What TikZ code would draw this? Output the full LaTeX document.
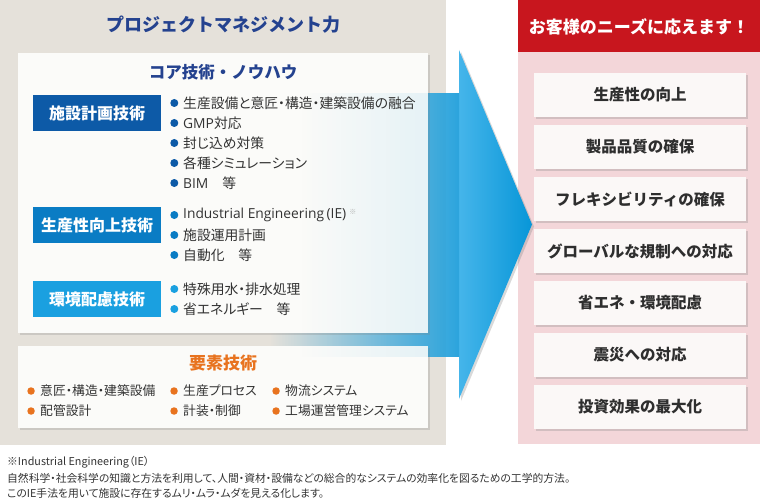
\documentclass[tikz,border=0pt]{standalone}
\usepackage{fontspec}
\setmainfont{Noto Sans CJK JP}
\newfontfamily\paltfont{Noto Sans CJK JP}[RawFeature=+palt]
\newfontfamily\latinfont{Open Sans}
\usepackage{xcolor}
\usetikzlibrary{positioning, shadows, fadings}

\definecolor{panelgray}{HTML}{E5E1DA}
\definecolor{titleblue}{HTML}{24428F}
\definecolor{catdark}{HTML}{0D5AA7}
\definecolor{catmid}{HTML}{0A7CC4}
\definecolor{catlight}{HTML}{1AA0E0}
\definecolor{boxwhite}{HTML}{FBFBF9}
\definecolor{txtgray}{HTML}{333333}
\definecolor{elemorange}{HTML}{E8731F}
\definecolor{needred}{HTML}{C8161E}
\definecolor{needpink}{HTML}{F3D6D9}
\definecolor{needfill}{HTML}{FBF8F7}
\definecolor{arrowblue}{HTML}{2AA3DC}
\definecolor{headlight}{HTML}{45B5EA}
\definecolor{headdark}{HTML}{0796D8}

\tikzfading[name=shaftfade, left color=transparent!100, right color=transparent!0]

\begin{document}
\begin{tikzpicture}[x=1pt, y=-1pt,
  heading/.style={font=\bfseries\fontsize{#1}{#1}\selectfont, inner sep=0pt},
  panel/.style={fill=boxwhite, inner sep=0pt, minimum width=410pt,
    drop shadow={opacity=0.25, shadow xshift=1.5pt, shadow yshift=-2pt}},
  cat/.style={fill=#1, text=white, minimum width=128pt, minimum height=36pt,
    inner sep=0pt, font=\bfseries\fontsize{16}{18}\selectfont},
  dot/.style={circle, fill=#1, inner sep=0pt, minimum size=8pt},
  item/.style={anchor=west, inner sep=0pt, text=txtgray,
    font=\paltfont\fontsize{13.8}{16}\selectfont,
    label={[dot=#1, xshift=-4.5pt]left:{}}},
  elem/.style={anchor=west, inner sep=0pt, text=txtgray,
    font=\paltfont\fontsize{12.8}{15}\selectfont,
    label={[dot=elemorange, minimum size=7.5pt, xshift=-5pt]left:{}}},
  need/.style={fill=needfill, minimum width=212pt, minimum height=44pt, inner sep=0pt,
    text=txtgray!90!black, font=\bfseries\fontsize{15.5}{18}\selectfont,
    drop shadow={opacity=0.28, shadow xshift=1.5pt, shadow yshift=-2pt}},
  note/.style={anchor=west, inner sep=0pt, text=txtgray,
    font=\paltfont\fontsize{10.8}{12}\selectfont},
]
\useasboundingbox (0,0) rectangle (760,500);

% backgrounds
\node[fill=panelgray, minimum width=446pt, minimum height=445pt, inner sep=0pt] (mgmt) at (223,222.5) {};
\node[fill=needpink, minimum width=242pt, minimum height=392pt, inner sep=0pt] (needs) at (639,248) {};
\node[fill=needred, minimum width=242pt, minimum height=52pt, inner sep=0pt] (needhead) at (639,26) {};

% big arrow
\fill[arrowblue, path fading=shaftfade] (270,93) rectangle (460,357);
\shade[left color=headlight, right color=headdark,
  drop shadow={opacity=0.3, shadow xshift=2pt, shadow yshift=-2pt}]
  (459,50) -- (532,224.5) -- (459,399) -- cycle;

% left side
\node[heading=18, text=titleblue] (mgmttitle) at (223,25) {プロジェクトマネジメント力};

\node[panel, minimum height=280pt] (core) at (223,193) {};
\node[panel, minimum height=82pt] (elems) at (223,387) {};
\fill[arrowblue, path fading=shaftfade, opacity=0.13] (300,93) rectangle (460,357);

\node[heading=16.5, text=titleblue] (coretitle) at (223,72) {コア技術・ノウハウ};

\node[cat=catdark] (plan) at (97,113) {施設計画技術};
\node[item=catdark] (p1) at (183,103) {生産設備と意匠・構造・建築設備の融合};
\node[item=catdark] (p2) at (183,123) {{\latinfont GMP}対応};
\node[item=catdark] (p3) at (183,143) {封じ込め対策};
\node[item=catdark] (p4) at (183,163) {各種シミュレーション};
\node[item=catdark] (p5) at (183,183) {{\latinfont BIM}　等};

\node[cat=catmid] (prod) at (97,225) {生産性向上技術};
\node[item=catmid] (q1) at (183,215) {{\latinfont Industrial Engineering\hspace{2.5pt}(IE)}\hspace{3pt}{\color{gray!60}\raisebox{4pt}{\fontsize{7}{7}\selectfont ※}}};
\node[item=catmid] (q2) at (183,235) {施設運用計画};
\node[item=catmid] (q3) at (183,255) {自動化　等};

\node[cat=catlight] (env) at (97,299) {環境配慮技術};
\node[item=catlight] (r1) at (183,289) {特殊用水・排水処理};
\node[item=catlight] (r2) at (183,309) {省エネルギー　等};

\node[heading=17, text=elemorange] (elemtitle) at (223,363) {要素技術};
\node[elem] (e1) at (40,391) {意匠・構造・建築設備};
\node[elem] (e2) at (183,391) {生産プロセス};
\node[elem] (e3) at (285,391) {物流システム};
\node[elem] (e4) at (40,411) {配管設計};
\node[elem] (e5) at (183,411) {計装・制御};
\node[elem] (e6) at (285,411) {工場運営管理システム};

% right side
\node[heading=17, text=white] (needtitle) at (639,27) {お客様のニーズに応えます！};
\node[need] (n1) at (640,95) {生産性の向上};
\node[need] (n2) at (640,147) {製品品質の確保};
\node[need] (n3) at (640,199) {フレキシビリティの確保};
\node[need] (n4) at (640,251) {グローバルな規制への対応};
\node[need] (n5) at (640,303) {省エネ・環境配慮};
\node[need] (n6) at (640,355) {震災への対応};
\node[need] (n7) at (640,407) {投資効果の最大化};

% footnote
\node[note] (f1) at (7,462) {※Industrial Engineering（IE）};
\node[note] (f2) at (7,478) {自然科学・社会科学の知識と方法を利用して、人間・資材・設備などの総合的なシステムの効率化を図るための工学的方法。};
\node[note] (f3) at (7,493) {このIE手法を用いて施設に存在するムリ・ムラ・ムダを見える化します。};

\end{tikzpicture}
\end{document}
